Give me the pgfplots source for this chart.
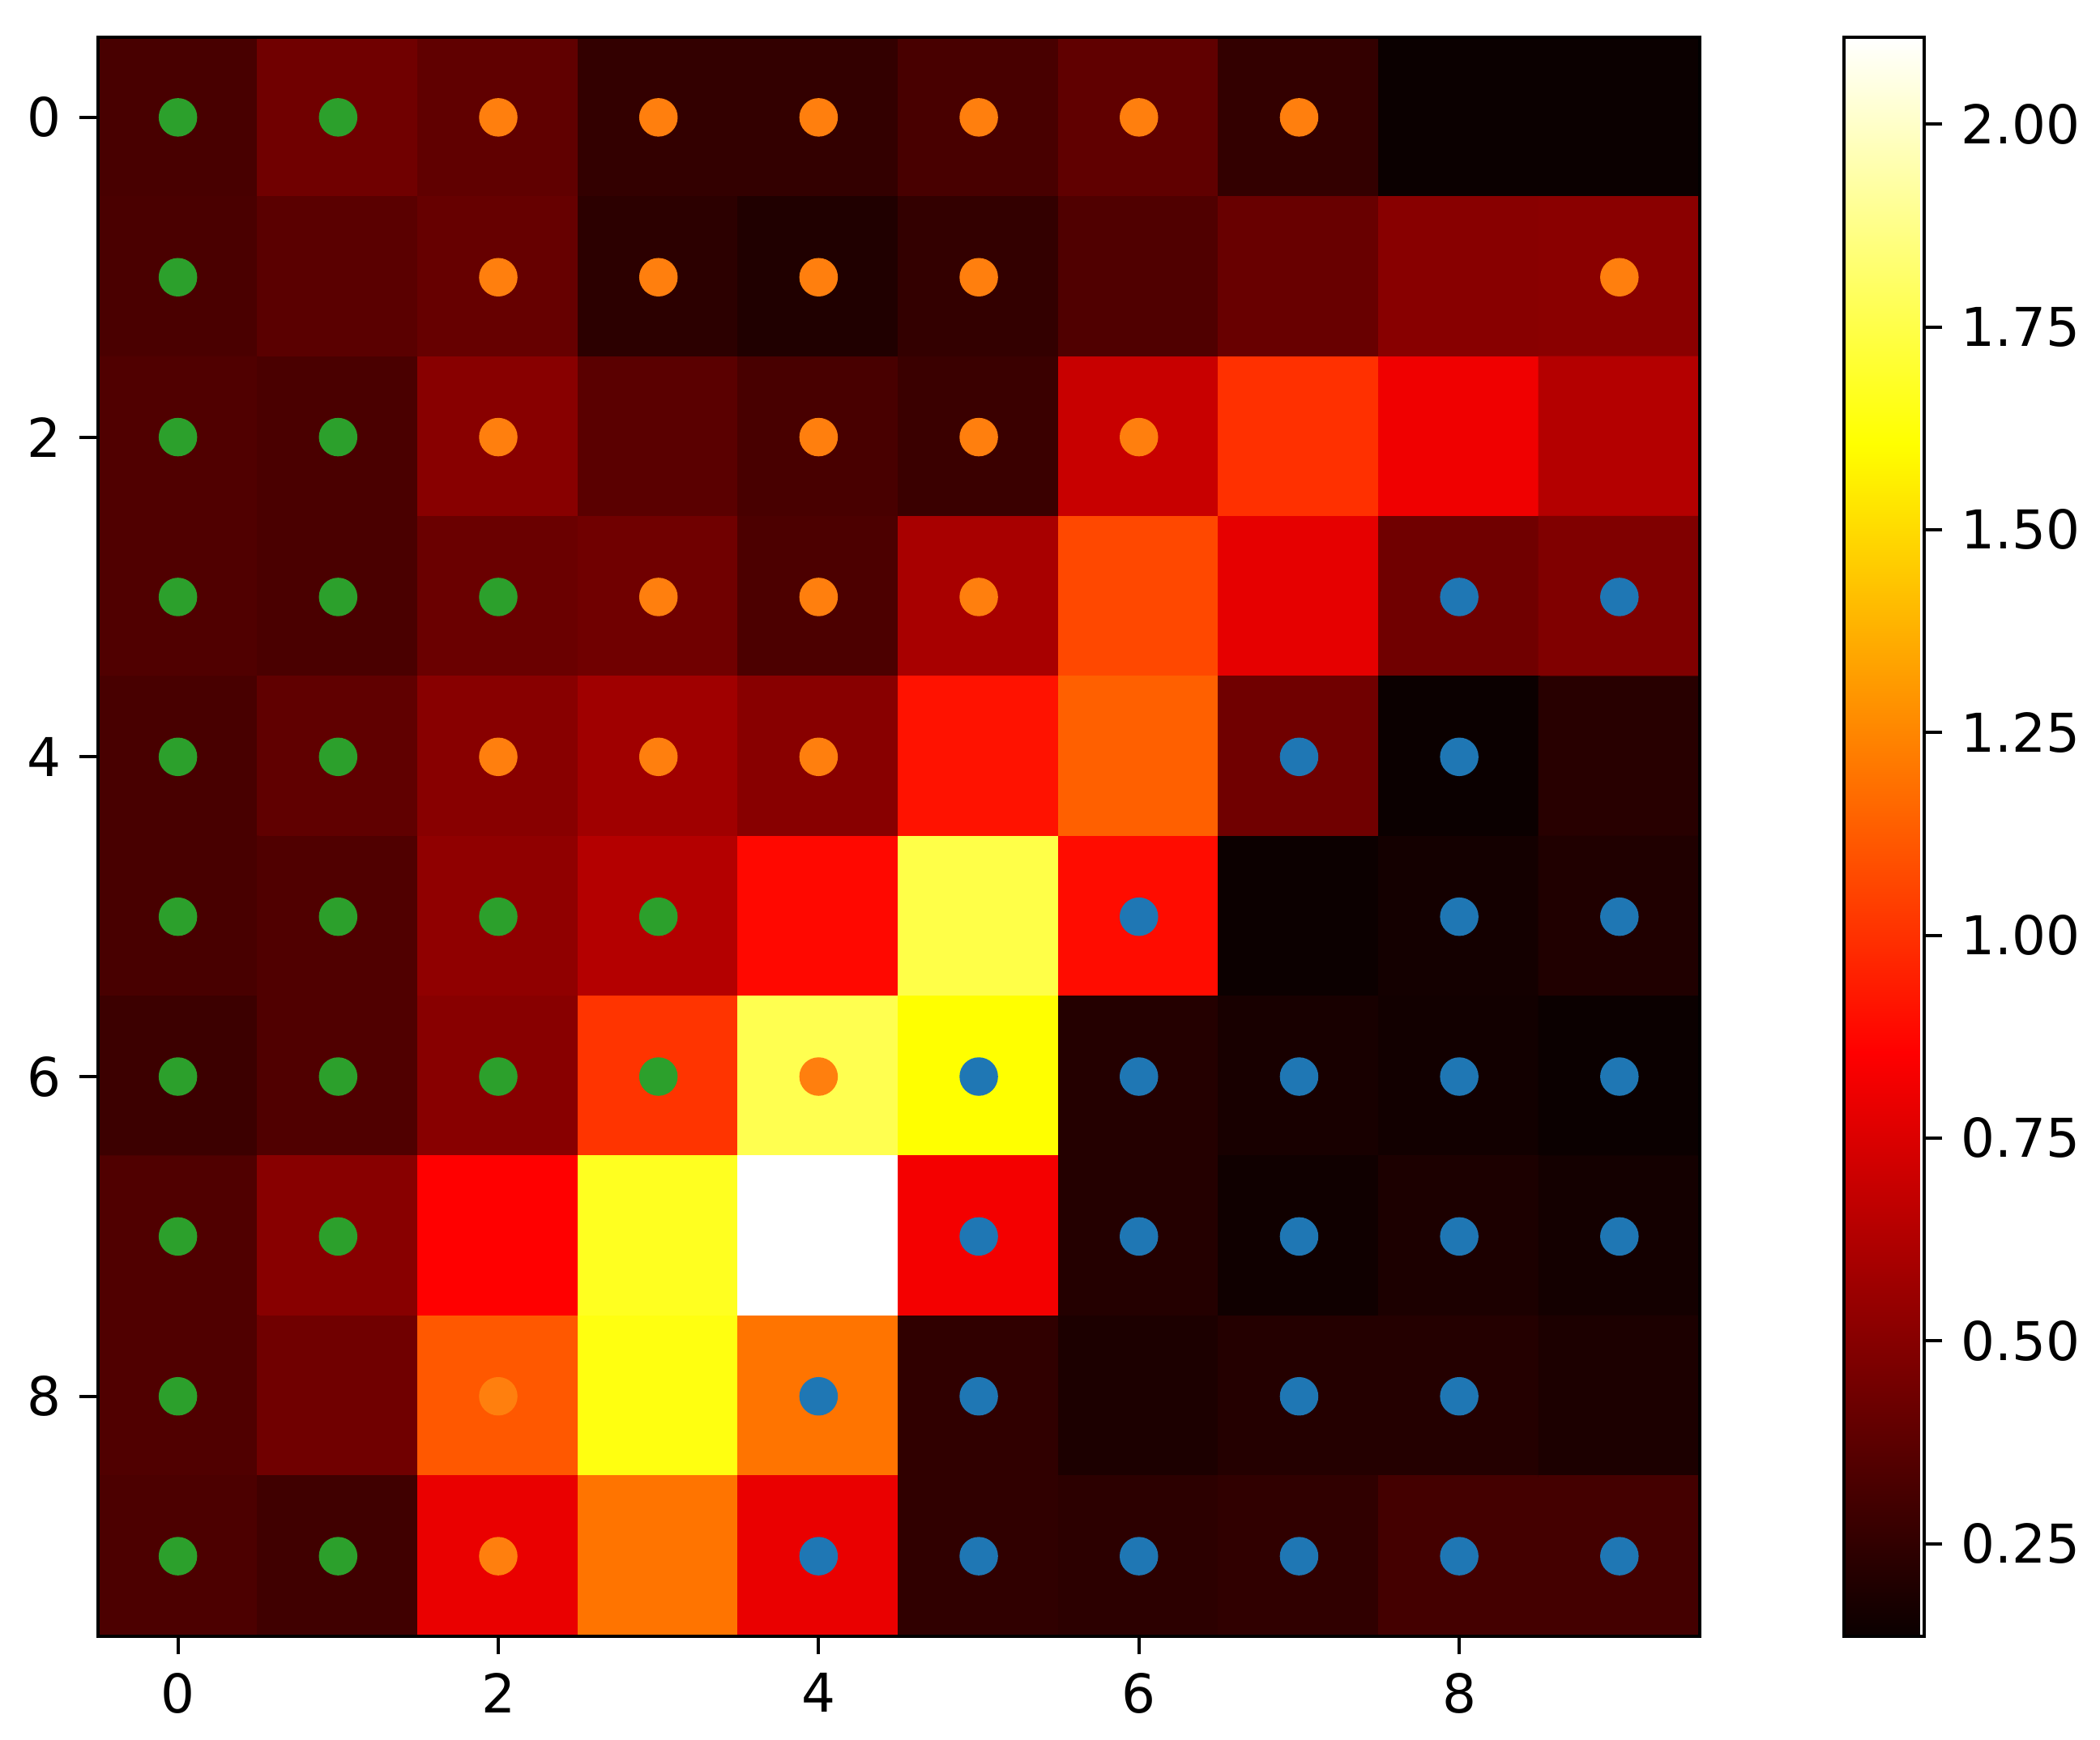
\documentclass[border=0pt]{standalone}
\usepackage{fontspec}
\setmainfont{DejaVu Sans}
\usepackage{pgfplots}
\usepackage{pgfplotstable}
\pgfplotsset{compat=1.18}

\definecolor{mplblue}{HTML}{1F77B4}
\definecolor{mplorange}{HTML}{FF7F0E}
\definecolor{mplgreen}{HTML}{2CA02C}

% cell values, row y = 0 at the top
\pgfplotstableread{
x y c
0 0 0.317
1 0 0.434
2 0 0.387
3 0 0.255
4 0 0.255
5 0 0.317
6 0 0.387
7 0 0.255
8 0 0.136
9 0 0.136
0 1 0.323
1 1 0.370
2 1 0.405
3 1 0.235
4 1 0.199
5 1 0.255
6 1 0.340
7 1 0.411
8 1 0.505
9 1 0.511
0 2 0.340
1 2 0.323
2 2 0.505
3 2 0.370
4 2 0.317
5 2 0.275
6 2 0.694
7 2 0.996
8 2 0.811
9 2 0.635
0 3 0.340
1 3 0.323
2 3 0.417
3 3 0.434
4 3 0.329
5 3 0.599
6 3 1.067
7 3 0.782
8 3 0.434
9 3 0.482
0 4 0.317
1 4 0.387
2 4 0.505
3 4 0.576
4 4 0.505
5 4 0.908
6 4 1.137
7 4 0.434
8 4 0.136
9 4 0.223
0 5 0.317
1 5 0.340
2 5 0.529
3 5 0.635
4 5 0.878
5 5 1.747
6 5 0.890
7 5 0.140
8 5 0.163
9 5 0.199
0 6 0.281
1 6 0.340
2 6 0.505
3 6 1.008
4 6 1.763
5 6 1.606
6 6 0.211
7 6 0.175
8 6 0.158
9 6 0.136
0 7 0.340
1 7 0.505
2 7 0.855
3 7 1.669
4 7 2.107
5 7 0.823
6 7 0.211
7 7 0.152
8 7 0.187
9 7 0.163
0 8 0.340
1 8 0.434
2 8 1.114
3 8 1.637
4 8 1.197
5 8 0.246
6 8 0.187
7 8 0.211
8 8 0.211
9 8 0.187
0 9 0.329
1 9 0.293
2 9 0.794
3 9 1.197
4 9 0.794
5 9 0.246
6 9 0.235
7 9 0.246
8 9 0.305
9 9 0.305
}\heat

\begin{document}
\begin{tikzpicture}
\path (-18.3pt,-19.4pt) rectangle (374.4pt,306pt);
\begin{axis}[
    scale only axis,
    width=299.5pt, height=299pt,
    xmin=-0.5, xmax=9.5, ymin=-0.5, ymax=9.5,
    y dir=reverse,
    axis on top,
    axis line style={line width=0.6pt},
    xtick={0,2,4,6,8}, ytick={0,2,4,6,8},
    tick pos=left, tick align=outside,
    major tick length=3.4pt,
    tick style={line width=0.6pt, black},
    ticklabel style={font=\fontsize{10}{12}\selectfont},
    /pgf/number format/assume math mode=true,
    colormap={mplhot}{rgb(0pt)=(0.0416,0,0); rgb(365pt)=(1,0,0); rgb(746pt)=(1,1,0); rgb(1000pt)=(1,1,1)},
    point meta min=0.136, point meta max=2.107,
    colorbar,
    colorbar shift/.style={xshift=26.7pt},
    colorbar style={
        width=15pt,
        ytick={0.25,0.5,...,2.0},
        ytick pos=right,
        tick align=outside,
        major tick length=3.4pt,
        axis line style={line width=0.6pt},
        yticklabel style={font=\fontsize{10}{12}\selectfont,
            /pgf/number format/.cd, fixed, fixed zerofill, precision=2, assume math mode=true},
    },
]
\addplot[matrix plot*, mesh/cols=10, point meta=explicit] table[meta=c] {\heat};

\addplot[only marks, mark=*, mark size=3.4pt, color=mplgreen] coordinates {
(0,0) (1,0) (0,1) (0,2) (1,2) (0,3) (1,3) (2,3) (0,4) (1,4)
(0,5) (1,5) (2,5) (3,5) (0,6) (1,6) (2,6) (3,6) (0,7) (1,7)
(0,8) (0,9) (1,9)};

\addplot[only marks, mark=*, mark size=3.4pt, color=mplorange] coordinates {
(2,0) (3,0) (4,0) (5,0) (6,0) (7,0)
(2,1) (3,1) (4,1) (5,1) (9,1)
(2,2) (4,2) (5,2) (6,2)
(3,3) (4,3) (5,3)
(2,4) (3,4) (4,4)
(4,6) (2,8) (2,9)};

\addplot[only marks, mark=*, mark size=3.4pt, color=mplblue] coordinates {
(8,3) (9,3) (7,4) (8,4) (6,5) (8,5) (9,5)
(5,6) (6,6) (7,6) (8,6) (9,6)
(5,7) (6,7) (7,7) (8,7) (9,7)
(4,8) (5,8) (7,8) (8,8)
(4,9) (5,9) (6,9) (7,9) (8,9) (9,9)};
\end{axis}
\end{tikzpicture}
\end{document}
